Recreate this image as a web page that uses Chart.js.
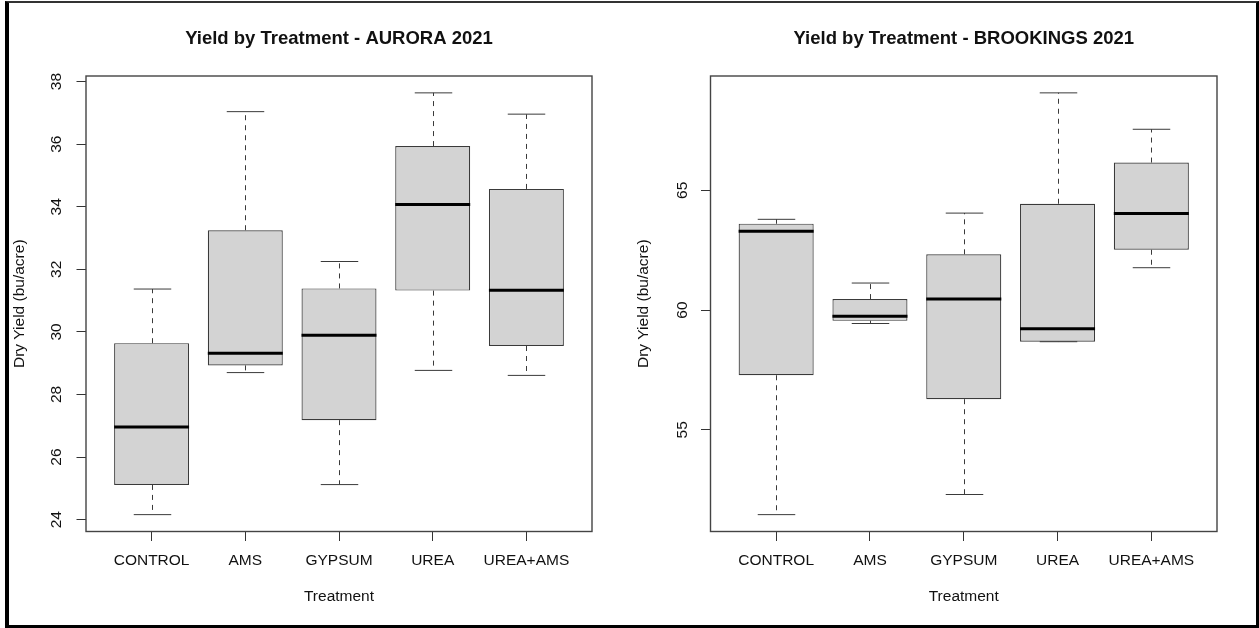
<!DOCTYPE html>
<html>
<head>
<meta charset="utf-8">
<script src="https://cdn.jsdelivr.net/npm/chart.js@4.4.1/dist/chart.umd.min.js"></script>
<style>
html,body{margin:0;padding:0;background:#fff;}
#wrap{position:relative;width:1259px;height:628px;overflow:hidden;background:#fff;}
#c1{position:absolute;left:0;top:0;}
#c2{position:absolute;left:630px;top:0;}
#frame{position:absolute;left:5px;top:1px;width:1254px;height:627px;box-sizing:border-box;
  border-left:4px solid #000;border-top:2px solid #333;border-right:3px solid #000;border-bottom:3px solid #000;
  pointer-events:none;}
</style>
</head>
<body>
<div id="wrap">
  <canvas id="c1" width="630" height="628"></canvas>
  <canvas id="c2" width="629" height="628"></canvas>
  <div id="frame"></div>
</div>
<script>
// ---- data ----
const categories = ['CONTROL', 'AMS', 'GYPSUM', 'UREA', 'UREA+AMS'];

const auroraMin    = [24.16, 28.70, 25.12, 28.77, 28.61];
const auroraQ1     = [25.11, 28.93, 27.18, 31.32, 29.55];
const auroraMedian = [26.96, 29.32, 29.89, 34.07, 31.33];
const auroraQ3     = [29.64, 33.25, 31.39, 35.94, 34.57];
const auroraMax    = [31.37, 37.04, 32.25, 37.64, 36.96];
const auroraTicks  = [24, 26, 28, 30, 32, 34, 36, 38];

const brookingsMin    = [51.46, 59.44, 52.30, 58.68, 61.77];
const brookingsQ1     = [57.28, 59.55, 56.28, 58.68, 62.52];
const brookingsMedian = [63.29, 59.74, 60.46, 59.22, 64.03];
const brookingsQ3     = [63.61, 60.46, 62.33, 64.44, 66.16];
const brookingsMax    = [63.79, 61.13, 64.05, 69.07, 67.55];
const brookingsTicks  = [55, 60, 65];

const FONT = "'Liberation Sans', Arial, Helvetica, sans-serif";
const TEXT = '#111';

function boxExtras(stats) {
  return {
    id: 'boxExtras',
    beforeDatasetsDraw(chart) {
      const ctx = chart.ctx, xs = chart.scales.x, ys = chart.scales.y;
      const meta = chart.getDatasetMeta(0);
      ctx.save();
      ctx.strokeStyle = '#3a3a3a';
      ctx.lineWidth = 1;
      stats.min.forEach((_, i) => {
        const x = Math.round(xs.getPixelForValue(i + 1)) + 0.5;
        const half = meta.data[i].width / 2;
        const seg = (x1, y1, x2, y2) => { ctx.beginPath(); ctx.moveTo(x1, y1); ctx.lineTo(x2, y2); ctx.stroke(); };
        ctx.setLineDash([5, 5]);
        seg(x, ys.getPixelForValue(stats.q3[i]), x, ys.getPixelForValue(stats.max[i]));
        seg(x, ys.getPixelForValue(stats.q1[i]), x, ys.getPixelForValue(stats.min[i]));
        ctx.setLineDash([]);
        const yMax = ys.getPixelForValue(stats.max[i]);
        const yMin = ys.getPixelForValue(stats.min[i]);
        seg(x - half / 2, yMax, x + half / 2, yMax);
        seg(x - half / 2, yMin, x + half / 2, yMin);
      });
      ctx.restore();
    },
    afterDatasetsDraw(chart) {
      const ctx = chart.ctx, xs = chart.scales.x, ys = chart.scales.y, a = chart.chartArea;
      const meta = chart.getDatasetMeta(0);
      ctx.save();
      ctx.strokeStyle = '#000';
      ctx.lineWidth = 3;
      stats.med.forEach((m, i) => {
        const x = xs.getPixelForValue(i + 1);
        const half = meta.data[i].width / 2;
        const y = ys.getPixelForValue(m);
        ctx.beginPath(); ctx.moveTo(x - half, y); ctx.lineTo(x + half, y); ctx.stroke();
      });
      ctx.strokeStyle = '#444';
      ctx.lineWidth = 1.4;
      ctx.strokeRect(a.left, a.top, a.right - a.left, a.bottom - a.top);
      ctx.restore();
    }
  };
}

function makeChart(id, title, mins, q1s, meds, q3s, maxs, yTicks, cfg) {
  const lo = Math.min(...mins), hi = Math.max(...maxs);
  const ext = (hi - lo) * 0.04;
  return new Chart(document.getElementById(id), {
    type: 'bar',
    data: {
      datasets: [{
        data: categories.map((c, i) => ({ x: i + 1, y: [q1s[i], q3s[i]] })),
        backgroundColor: '#D3D3D3',
        borderColor: '#3a3a3a',
        borderWidth: 1.2,
        borderSkipped: false,
        barPercentage: 0.8,
        categoryPercentage: 1.0
      }]
    },
    options: {
      responsive: false,
      animation: false,
      events: [],
      layout: { padding: { left: 0, right: cfg.rightPad, top: 0, bottom: 0 } },
      plugins: {
        legend: { display: false },
        tooltip: { enabled: false },
        title: {
          display: true, text: title, fullSize: false, color: TEXT,
          font: { family: FONT, size: 18.5, weight: 'bold', lineHeight: 1.2 },
          padding: { top: 27.5, bottom: 26.3 }
        }
      },
      scales: {
        x: {
          type: 'linear', min: 0.3, max: 5.7, offset: false,
          afterBuildTicks: s => { s.ticks = categories.map((c, i) => ({ value: i + 1 })); },
          afterFit: s => { s.height = 96.5; },
          ticks: {
            autoSkip: false, maxRotation: 0, minRotation: 0, padding: 10, color: TEXT,
            font: { family: FONT, size: 15.5 },
            callback: v => categories[v - 1]
          },
          grid: { display: true, drawOnChartArea: false, drawTicks: true, tickLength: 9.5, tickColor: '#333', offset: false },
          border: { display: false },
          title: { display: true, text: 'Treatment', color: TEXT, font: { family: FONT, size: 15.5 }, padding: { top: 0, bottom: 21.7 } }
        },
        y: {
          type: 'linear', min: lo - ext, max: hi + ext, beginAtZero: false,
          afterBuildTicks: s => { s.ticks = yTicks.map(v => ({ value: v })); },
          afterFit: s => { s.width = cfg.yWidth; },
          ticks: {
            autoSkip: false, minRotation: 90, maxRotation: 90, crossAlign: 'center',
            padding: cfg.tickPad, color: TEXT, font: { family: FONT, size: 15.5 }
          },
          grid: { display: true, drawOnChartArea: false, drawTicks: true, tickLength: 9.5, tickColor: '#333' },
          border: { display: false },
          title: { display: true, text: 'Dry Yield (bu/acre)', color: TEXT, font: { family: FONT, size: 15.5 }, padding: { top: cfg.titlePad, bottom: 0 } }
        }
      }
    },
    plugins: [boxExtras({ min: mins, q1: q1s, med: meds, q3: q3s, max: maxs })]
  });
}

makeChart('c1', 'Yield by Treatment - AURORA 2021',
  auroraMin, auroraQ1, auroraMedian, auroraQ3, auroraMax, auroraTicks,
  { rightPad: 38, yWidth: 86, tickPad: 11.5, titlePad: 10.7 });

makeChart('c2', 'Yield by Treatment - BROOKINGS 2021',
  brookingsMin, brookingsQ1, brookingsMedian, brookingsQ3, brookingsMax, brookingsTicks,
  { rightPad: 42, yWidth: 80.5, tickPad: 9.5, titlePad: 4.3 });
</script>
</body>
</html>
